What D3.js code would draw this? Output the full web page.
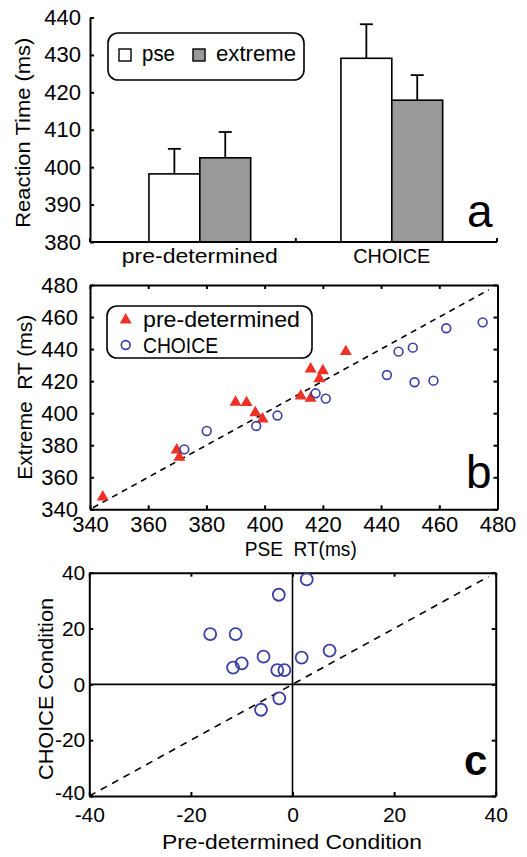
<!DOCTYPE html>
<html><head><meta charset="utf-8">
<script src="https://cdn.jsdelivr.net/npm/d3@7"></script>
<style>
body{margin:0;background:#fff}
svg{display:block}
text{font-family:"Liberation Sans",Arial,sans-serif;fill:#000}
</style>
</head><body>
<svg id="chart" width="527" height="857"></svg>
<script>
// ---------- Panel a data ----------
const barCategories = ["pre-determined", "CHOICE"];
const barSeries = ["pse", "extreme"];
const pseMeans = [398.2, 429.1];
const extremeMeans = [402.5, 417.9];
const pseErr = [6.7, 9.1];
const extremeErr = [6.9, 6.7];
const aTicks = [380, 390, 400, 410, 420, 430, 440];

// ---------- Panel b data ----------
const predetPSE     = [344.4, 369.8, 370.7, 390.0, 393.8, 396.8, 399.3, 412.4, 415.8, 415.8, 420.0, 418.8, 427.9];
const predetExtreme = [347.7, 377.0, 372.5, 406.8, 406.6, 400.3, 396.4, 410.7, 409.3, 427.6, 426.5, 421.5, 438.4];
const choicePSE     = [372.4, 380.1, 397.1, 404.4, 417.5, 421.0, 442.0, 446.0, 450.9, 451.5, 458.0, 462.4, 474.9];
const choiceExtreme = [377.4, 388.9, 392.0, 398.5, 412.4, 409.1, 423.8, 438.4, 440.9, 419.3, 420.3, 453.0, 456.7];
const bTicks = [340, 360, 380, 400, 420, 440, 460, 480];
const bDiagonal = [341, 477];

// ---------- Panel c data ----------
const diffPredet = [-16.2, -11.2, -2.7, 2.8, -5.7, -11.7, -10.0, -3.0, -1.6, 1.8, 7.3, -2.6, -6.2];
const diffChoice = [18.0, 18.0, 32.1, 37.6, 9.9, 6.0, 7.5, 5.1, 5.1, 9.6, 12.1, -5.0, -9.1];
const cTicks = [-40, -20, 0, 20, 40];
const cDiagonal = [-40, 38.6];

const RED = "#ee3027", BLUE = "#3a3fa6", GRAY = "#999999";
const TICK_FS = 22, LAB_FS = 21;

const svg = d3.select("#chart");

function styleAxis(g, w, fs) {
  g.select(".domain").attr("stroke", "#000").attr("stroke-width", w);
  g.selectAll(".tick line").attr("stroke", "#000").attr("stroke-width", w);
  g.selectAll(".tick text").style("font-size", (fs || TICK_FS) + "px").attr("fill", "#000")
    .style("font-family", '"Liberation Sans", Arial, sans-serif');
}
// text squeezed to a given length (mimics the narrower original typeface)
function label(g, txt, len, fs) {
  return g.append("text").style("font-size", (fs || LAB_FS) + "px").style("white-space", "pre")
    .attr("textLength", len).attr("lengthAdjust", "spacingAndGlyphs").text(txt);
}

// ================= Panel a =================
{
  const L = 90, R = 497, T = 17.5, B = 242;
  const y = d3.scaleLinear().domain([380, 440]).range([B, T]);
  const x = d3.scaleBand().domain(barCategories).range([L, R]).paddingInner(0).paddingOuter(0.06).align(0.6);
  const groupW = x.bandwidth() * 0.53;
  const xs = d3.scaleBand().domain(barSeries).range([-groupW / 2, groupW / 2]);
  const g = svg.append("g");

  const rows = [];
  barCategories.forEach((c, i) => {
    rows.push({c, s: "pse", v: pseMeans[i], e: pseErr[i]});
    rows.push({c, s: "extreme", v: extremeMeans[i], e: extremeErr[i]});
  });
  const cx = d => x(d.c) + x.bandwidth() / 2 + xs(d.s);
  g.selectAll(".eb").data(rows).join("line")
    .attr("x1", d => cx(d) + xs.bandwidth() / 2).attr("x2", d => cx(d) + xs.bandwidth() / 2)
    .attr("y1", d => y(d.v)).attr("y2", d => y(d.v + d.e))
    .attr("stroke", "#000").attr("stroke-width", 1.8);
  g.selectAll(".cap").data(rows).join("line")
    .attr("x1", d => cx(d) + xs.bandwidth() / 2 - 6.5).attr("x2", d => cx(d) + xs.bandwidth() / 2 + 6.5)
    .attr("y1", d => y(d.v + d.e)).attr("y2", d => y(d.v + d.e))
    .attr("stroke", "#000").attr("stroke-width", 1.8);
  g.selectAll(".bar").data(rows).join("rect")
    .attr("x", d => cx(d)).attr("width", xs.bandwidth())
    .attr("y", d => y(d.v)).attr("height", d => y(380) - y(d.v))
    .attr("fill", d => d.s === "pse" ? "#fff" : GRAY)
    .attr("stroke", "#000").attr("stroke-width", 1.6);

  const ya = g.append("g").attr("transform", `translate(${L},0)`)
    .call(d3.axisLeft(y).tickValues(aTicks).tickSize(-4).tickSizeOuter(0).tickPadding(9));
  styleAxis(ya, 2);
  const xa = g.append("g").attr("transform", `translate(0,${B})`)
    .call(d3.axisBottom(x).tickSize(0).tickSizeOuter(0).tickPadding(6));
  styleAxis(xa, 2);
  xa.select(".domain").attr("d", `M${L},0H${R}`);
  const catLen = {"pre-determined": 156, "CHOICE": 77};
  xa.selectAll(".tick text").style("font-size", LAB_FS + "px")
    .attr("textLength", d => catLen[d]).attr("lengthAdjust", "spacingAndGlyphs");
  const sep = [L, x(barCategories[1]), R];
  g.selectAll(".sep").data(sep).join("line")
    .attr("x1", d => d).attr("x2", d => d).attr("y1", B).attr("y2", B - 4)
    .attr("stroke", "#000").attr("stroke-width", 2);

  label(g, "Reaction Time (ms)", 190).attr("text-anchor", "middle")
    .attr("transform", `translate(30,${(T + B) / 2 + 3}) rotate(-90)`);

  g.append("rect").attr("x", 108).attr("y", 33).attr("width", 196).attr("height", 47)
    .attr("rx", 10).attr("fill", "#fff").attr("stroke", "#000").attr("stroke-width", 1.6);
  const leg = [{s: "pse", x: 119, fill: "#fff", len: 33}, {s: "extreme", x: 193, fill: GRAY, len: 80}];
  leg.forEach(d => {
    g.append("rect").attr("x", d.x).attr("y", 49).attr("width", 12).attr("height", 12)
      .attr("fill", d.fill).attr("stroke", "#000").attr("stroke-width", 1.4);
    label(g, d.s, d.len, 22).attr("x", d.x + 23).attr("y", 61);
  });
  g.append("text").attr("x", 467).attr("y", 227).style("font-size", "46px").text("a");
}

// ================= Panel b =================
{
  const L = 90, R = 497.5, T = 285, B = 509.3;
  const x = d3.scaleLinear().domain([340, 480]).range([L, R]);
  const y = d3.scaleLinear().domain([340, 480]).range([B, T]);
  const g = svg.append("g");

  const ax = (gen, tr, labels) => {
    const a = g.append("g").attr("transform", tr).call(gen.tickValues(bTicks).tickSize(-4).tickSizeOuter(0));
    styleAxis(a, 2);
    if (!labels) a.selectAll(".tick text").remove();
    return a;
  };
  ax(d3.axisBottom(x).tickPadding(7), `translate(0,${B})`, true);
  ax(d3.axisLeft(y).tickPadding(12), `translate(${L},0)`, true);
  ax(d3.axisTop(x), `translate(0,${T})`, false);
  ax(d3.axisRight(y), `translate(${R},0)`, false);

  g.append("line").attr("x1", x(bDiagonal[0])).attr("y1", y(bDiagonal[0]))
    .attr("x2", x(bDiagonal[1])).attr("y2", y(bDiagonal[1]))
    .attr("stroke", "#000").attr("stroke-width", 1.6).attr("stroke-dasharray", "6,5");

  const tri = d3.symbol(d3.symbolTriangle, 62);
  g.selectAll(".tri").data(predetPSE).join("path")
    .attr("d", tri).attr("transform", (d, i) => `translate(${x(d)},${y(predetExtreme[i])})`)
    .attr("fill", RED);
  g.selectAll(".circ").data(choicePSE).join("circle")
    .attr("cx", d => x(d)).attr("cy", (d, i) => y(choiceExtreme[i])).attr("r", 4.4)
    .attr("fill", "none").attr("stroke", BLUE).attr("stroke-width", 1.6);

  g.append("rect").attr("x", 107).attr("y", 306).attr("width", 205).attr("height", 52)
    .attr("rx", 10).attr("fill", "#fff").attr("stroke", "#000").attr("stroke-width", 1.6);
  g.append("path").attr("d", tri).attr("transform", "translate(125.7,320)").attr("fill", RED);
  g.append("circle").attr("cx", 125.7).attr("cy", 345).attr("r", 4.4)
    .attr("fill", "none").attr("stroke", BLUE).attr("stroke-width", 1.6);
  label(g, "pre-determined", 157, 22).attr("x", 143).attr("y", 327);
  label(g, "CHOICE", 75, 22).attr("x", 143).attr("y", 353);

  label(g, "Extreme  RT (ms)", 165).attr("text-anchor", "middle")
    .attr("transform", `translate(32,${(T + B) / 2}) rotate(-90)`);
  label(g, "PSE  RT(ms)", 112).attr("text-anchor", "middle")
    .attr("x", (L + R) / 2 + 7).attr("y", 556);
  g.append("text").attr("x", 466).attr("y", 488).style("font-size", "46px").text("b");
}

// ================= Panel c =================
{
  const L = 89.3, R = 495.7, T = 572.7, B = 796;
  const x = d3.scaleLinear().domain([-40, 40]).range([L, R]);
  const y = d3.scaleLinear().domain([-40, 40]).range([B, T]);
  const g = svg.append("g");

  const ax = (gen, tr, labels) => {
    const a = g.append("g").attr("transform", tr).call(gen.tickValues(cTicks).tickSize(-4).tickSizeOuter(0));
    styleAxis(a, 2, 21);
    if (!labels) a.selectAll(".tick text").remove();
    return a;
  };
  ax(d3.axisBottom(x).tickPadding(11).tickFormat(d3.format("d")), `translate(0,${B})`, true);
  const left = ax(d3.axisLeft(y).tickPadding(4).tickFormat(d3.format("d")), `translate(${L},0)`, true);
  left.selectAll(".tick text").filter(d => d === cTicks[0]).attr("y", -3);
  ax(d3.axisTop(x), `translate(0,${T})`, false);
  ax(d3.axisRight(y), `translate(${R},0)`, false);
  g.selectAll(".tick text").text(function(){ return this.textContent.replace("−", "-"); });

  g.append("line").attr("x1", x(0)).attr("x2", x(0)).attr("y1", y(40)).attr("y2", y(-40))
    .attr("stroke", "#000").attr("stroke-width", 1.6);
  g.append("line").attr("x1", x(-40)).attr("x2", x(40)).attr("y1", y(0)).attr("y2", y(0))
    .attr("stroke", "#000").attr("stroke-width", 1.6);
  g.append("line").attr("x1", x(cDiagonal[0])).attr("y1", y(cDiagonal[0]))
    .attr("x2", x(cDiagonal[1])).attr("y2", y(cDiagonal[1]))
    .attr("stroke", "#000").attr("stroke-width", 1.6).attr("stroke-dasharray", "7,6");

  g.selectAll(".circ").data(diffPredet).join("circle")
    .attr("cx", d => x(d)).attr("cy", (d, i) => y(diffChoice[i])).attr("r", 6)
    .attr("fill", "none").attr("stroke", BLUE).attr("stroke-width", 1.8);

  label(g, "CHOICE Condition", 182).attr("text-anchor", "middle")
    .attr("transform", `translate(53,689) rotate(-90)`);
  label(g, "Pre-determined Condition", 260).attr("text-anchor", "middle")
    .attr("x", 292).attr("y", 849);
  g.append("text").attr("x", 464).attr("y", 775).style("font-size", "42px").style("font-weight", "bold").text("c");
}
</script>
</body></html>
